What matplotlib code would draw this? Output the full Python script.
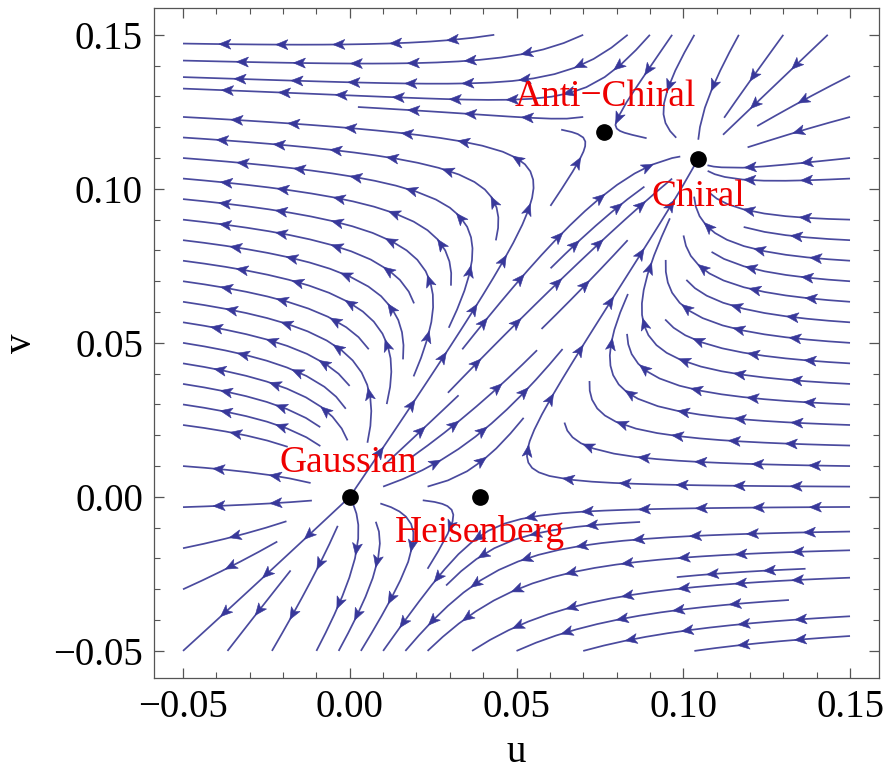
import numpy as np
import matplotlib
matplotlib.use("Agg")
import matplotlib.pyplot as plt
from matplotlib.patches import Polygon

# ---- data ----
fp_names = ["Gaussian", "Heisenberg", "Anti\u2212Chiral", "Chiral"]
fp_u = [0.0, 0.039, 0.0762, 0.1044]
fp_v = [0.0, 0.0, 0.1186, 0.1098]
label_u = [-0.0005, 0.039, 0.0766, 0.1044]
label_v = [0.0112, -0.0115, 0.1300, 0.0974]
ticks = [-0.05, 0.0, 0.05, 0.10, 0.15]
tick_labels = ["\u22120.05", "0.00", "0.05", "0.10", "0.15"]
domain = [-0.05, 0.15]

# ---- one-loop type beta functions with these fixed points ----
h = fp_u[1]
p1 = -1.0 / h
uc, vc = fp_u[3], fp_v[3]
ua, va = fp_u[2], fp_v[2]
q1, q2 = np.linalg.solve([[uc, vc], [ua, va]], [-1.0, -1.0])
p2, p3 = np.linalg.solve([[uc * vc, vc ** 2], [ua * va, va ** 2]],
                         [-uc - p1 * uc ** 2, -ua - p1 * ua ** 2])

uu = np.linspace(domain[0], domain[1], 300)
vv = np.linspace(domain[0], domain[1], 300)
U, V = np.meshgrid(uu, vv)
FU = U + p1 * U ** 2 + p2 * U * V + p3 * V ** 2
FV = V + q1 * U * V + q2 * V ** 2
spd = np.hypot(FU, FV) + 1e-12

plt.rcParams['font.family'] = ['Liberation Serif', 'DejaVu Serif']

fig = plt.figure(figsize=(8.83, 7.71), dpi=100)
ax = fig.add_axes([0.1744, 0.121, 0.8211, 0.8686])
pad = 0.0087
ax.set_xlim(domain[0] - pad, domain[1] + pad)
ax.set_ylim(domain[0] - pad, domain[1] + pad)

LC = '#4a4a9e'
AC = '#38389a'
sp = ax.streamplot(U, V, FU / spd, FV / spd, density=1.05, color=LC,
                   linewidth=1.25, arrowstyle='-', minlength=0.15)
for p in list(ax.patches):
    p.remove()

# ---- place several arrowheads along each streamline ----
segs = sp.lines.get_segments()
trajs = []
cur = None
for s in segs:
    s = np.asarray(s)
    if cur is not None and np.allclose(cur[-1], s[0], rtol=0, atol=1e-10):
        cur.extend(list(s[1:]))
    else:
        if cur is not None:
            trajs.append(np.array(cur))
        cur = list(s)
if cur is not None:
    trajs.append(np.array(cur))

fig.canvas.draw()
T = ax.transData
Ti = T.inverted()
spacing = 57.0
alen, awid = 12.0, 5.0
for tr in trajs:
    P = T.transform(tr)
    d = np.hypot(*np.diff(P, axis=0).T)
    s = np.concatenate([[0], np.cumsum(d)])
    L = s[-1]
    if L < 20:
        continue
    n = max(1, int((L - 10) // spacing))
    start = (L - (n - 1) * spacing) / 2.0 + alen / 2
    for k in range(n):
        st = start + k * spacing
        if st > L:
            break
        tip = np.array([np.interp(st, s, P[:, 0]), np.interp(st, s, P[:, 1])])
        back = np.array([np.interp(st - alen, s, P[:, 0]),
                         np.interp(st - alen, s, P[:, 1])])
        dv = tip - back
        nrm = np.hypot(*dv)
        if nrm < 1e-6:
            continue
        dv = dv / nrm
        base = tip - dv * alen
        perp = np.array([-dv[1], dv[0]])
        tri = np.array([tip, base + perp * awid, base + dv * 3.0,
                        base - perp * awid])
        ax.add_patch(Polygon(Ti.transform(tri), closed=True, facecolor=AC,
                             edgecolor=AC, linewidth=0.4, zorder=3))

ax.plot(fp_u, fp_v, 'o', color='black', markersize=11, zorder=5)
for n, x, y in zip(fp_names, label_u, label_v):
    ax.text(x, y, n, color='#ee0000', fontsize=27, ha='center', va='center',
            zorder=6)

ax.set_xticks(ticks)
ax.set_xticklabels(tick_labels)
ax.set_yticks(ticks)
ax.set_yticklabels(tick_labels)
ax.set_xticks(np.arange(-0.05, 0.151, 0.01), minor=True)
ax.set_yticks(np.arange(-0.05, 0.151, 0.01), minor=True)
ax.tick_params(which='both', direction='in', top=True, right=True,
               colors='#555555', labelcolor='black', labelsize=28)
ax.tick_params(which='major', length=7, width=0.9, pad=8)
ax.tick_params(which='minor', length=4, width=0.8)
for sname, s in ax.spines.items():
    s.set_color('#555555')
    s.set_linewidth(0.9)

ax.set_xlabel('u', fontsize=28)
ax.set_ylabel('v', fontsize=28, rotation=90)
ax.xaxis.set_label_coords(0.5, -0.112)
ax.yaxis.set_label_coords(-0.183, 0.5)
ax.xaxis.label.set_va('center')
ax.yaxis.label.set_va('center')
ax.yaxis.label.set_ha('center')

fig.savefig('out.png', dpi=100)
